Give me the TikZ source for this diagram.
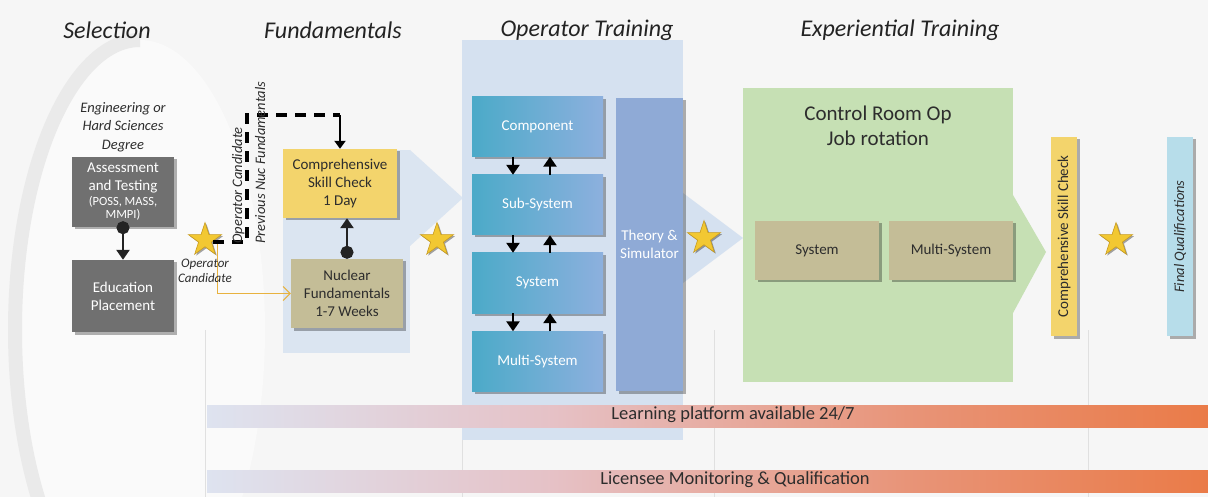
\documentclass[tikz,border=0pt]{standalone}
\usepackage{fontspec}
\setmainfont{Carlito}
\usetikzlibrary{shapes.geometric, arrows.meta, shadows}

\definecolor{bgcol}{RGB}{246,246,246}
\definecolor{conecol}{RGB}{250,250,250}
\definecolor{ringcol}{RGB}{234,234,234}
\definecolor{sepcol}{RGB}{224,224,224}
\definecolor{fundpanel}{RGB}{219,229,241}
\definecolor{oppanel}{RGB}{213,225,240}
\definecolor{greenpanel}{RGB}{198,224,180}
\definecolor{selgrey}{RGB}{112,112,112}
\definecolor{skillyellow}{RGB}{243,212,108}
\definecolor{tanfill}{RGB}{196,189,151}
\definecolor{tealblue}{RGB}{75,170,200}
\definecolor{softblue}{RGB}{141,176,222}
\definecolor{theoryblue}{RGB}{143,170,214}
\definecolor{finalblue}{RGB}{183,221,234}
\definecolor{starGold}{RGB}{242,200,50}
\definecolor{starEdge}{RGB}{200,155,30}
\definecolor{candyellow}{RGB}{232,178,62}
\definecolor{darktext}{RGB}{45,45,45}
\definecolor{headtext}{RGB}{35,35,35}
\definecolor{arrowdark}{RGB}{35,35,35}

% horizontal fade used by the two bottom bars
\pgfdeclarehorizontalshading{platbar}{100bp}{%
  rgb(0bp)=(0.87,0.90,0.95);
  rgb(25bp)=(0.87,0.89,0.94);
  rgb(42bp)=(0.90,0.76,0.78);
  rgb(60bp)=(0.91,0.58,0.47);
  rgb(80bp)=(0.92,0.45,0.22);
  rgb(100bp)=(0.92,0.40,0.15)}

\begin{document}
\begin{tikzpicture}[x=1pt, y=-1pt,
  box/.style={rectangle, inner sep=0pt, align=center,
    font=\fontsize{15}{18}\selectfont,
    drop shadow={shadow xshift=2.5pt, shadow yshift=-2.5pt, opacity=0.3, fill=black}},
  greybox/.style={box, fill=selgrey, text=white, minimum width=102pt},
  yellowbox/.style={box, fill=skillyellow, text=darktext},
  tanbox/.style={box, fill=tanfill, text=darktext},
  bluebox/.style={box, left color=tealblue, right color=softblue, text=white,
    minimum width=131pt, minimum height=60pt},
  vbar/.style={box, minimum width=26pt, minimum height=199pt},
  goldstar/.style={star, star points=5, star point ratio=2.6, minimum size=35pt,
    inner sep=0pt, fill=starGold, draw=starEdge, line width=0.6pt,
    drop shadow={shadow xshift=1.5pt, shadow yshift=-1.5pt, opacity=0.35, fill=black}},
  heading/.style={font=\fontsize{24}{28}\selectfont\itshape, text=headtext},
  updown/.style={line width=2.5pt, draw=black, -{Triangle[width=13pt,length=10pt]}},
  dotarrow/.style={line width=2.5pt, draw=arrowdark,
    {Circle[length=13pt]}-{Triangle[width=13pt,length=10pt]}},
  dashroute/.style={line width=3.5pt, draw=black, dash pattern=on 11pt off 8pt},
  candline/.style={draw=candyellow, line width=1pt, -{Straight Barb[length=7pt,width=14pt]}},
  barlabel/.style={font=\fontsize{18.5}{20}\selectfont, text=darktext},
  sideline/.style={font=\fontsize{14.5}{17}\selectfont\itshape, text=darktext},
  sepline/.style={draw=sepcol, line width=0.8pt}]

\useasboundingbox (0,0) rectangle (1208,497);
\fill[bgcol] (0,0) rectangle (1208,497);

% selection cone: pale interior and grey rim
\begin{scope}
  \clip (0,0) rectangle (1208,497);
  \fill[conecol] (140,330) ellipse [x radius=125, y radius=290];
  \fill[conecol] (140,40) -- (207,110) -- (207,497) -- (140,497) -- cycle;
  \draw[ringcol, line width=14pt] (140,40) arc[start angle=270, end angle=90, x radius=125, y radius=290];
\end{scope}

% faint column separators
\draw[sepline] (205,330) -- (205,497);
\draw[sepline] (462,440) -- (462,497);
\draw[sepline] (714,330) -- (714,497);
\draw[sepline] (1088,330) -- (1088,497);

% phase panels with their chevrons
\fill[fundpanel] (283,150) rectangle (410,353);
\fill[fundpanel] (410,150) -- (463,198) -- (410,246) -- cycle;
\fill[oppanel] (462,40) rectangle (683,440);
\fill[oppanel] (683,193) -- (743,238) -- (683,283) -- cycle;
\fill[greenpanel] (743,88) rectangle (1013,382);
\fill[greenpanel] (1013,195) -- (1046,252) -- (1013,313) -- cycle;

% bottom bars
\shade[shading=platbar] (207,405) rectangle (1208,427);
\shade[shading=platbar] (207,470) rectangle (1208,492);
\node[barlabel] (platform) at (733,415) {Learning platform available 24/7};
\node[barlabel] (licensee) at (735,480) {Licensee Monitoring \& Qualification};

% headings
\node[heading] (hsel) at (107,30) {Selection};
\node[heading] (hfund) at (333,30) {Fundamentals};
\node[heading] (hop) at (587,30) {Operator Training};
\node[heading] (hexp) at (900,30) {Experiential Training};

% selection
\node[font=\fontsize{14.5}{18.5}\selectfont\itshape, text=darktext, align=center] (degree) at (123,127)
  {Engineering or\\Hard Sciences\\Degree};
\node[greybox, minimum height=70pt] (assess) at (123,192)
  {Assessment\\and Testing\\[-3pt]{\fontsize{12.5}{12}\selectfont (POSS, MASS,}\\[-5pt]{\fontsize{12.5}{12}\selectfont MMPI)}};
\node[greybox, minimum height=72pt] (edu) at (123,296) {Education\\Placement};
\draw[dotarrow] ([yshift=6pt]assess.south) -- (edu.north);

% fundamentals
\node[yellowbox, minimum width=114pt, minimum height=69pt] (csc) at (340,183.5)
  {Comprehensive\\Skill Check\\1 Day};
\node[tanbox, minimum width=112pt, minimum height=69pt] (nf) at (347,293.5)
  {Nuclear\\Fundamentals\\1-7 Weeks};
\draw[dotarrow] (nf.north) -- (nf.north |- csc.south);

% operator training
\node[bluebox] (comp) at (537.5,126.5) {Component};
\node[bluebox] (sub) at (537.5,205) {Sub-System};
\node[bluebox] (sys) at (537.5,283) {System};
\node[bluebox] (multi) at (537.5,361.5) {Multi-System};
\node[box, fill=theoryblue, text=white, minimum width=67pt, minimum height=293pt] (theory) at (649.5,244.5)
  {Theory \&\\Simulator};
\foreach \a/\b in {comp/sub, sub/sys, sys/multi} {
  \draw[updown] ([xshift=-24.5pt]\a.south) -- ([xshift=-24.5pt]\b.north);
  \draw[updown] ([xshift=12.5pt]\b.north) -- ([xshift=12.5pt]\a.south);
}

% experiential training
\node[font=\fontsize{21}{25}\selectfont, text=darktext, align=center] (ctrl) at (878,126)
  {Control Room Op\\Job rotation};
\node[tanbox, minimum width=124pt, minimum height=59pt] (esys) at (817,250.5) {System};
\node[tanbox, minimum width=124pt, minimum height=59pt] (emulti) at (951,250.5) {Multi-System};

% checks and qualifications
\node[vbar, fill=skillyellow] (cscbar) at (1064,236.5) {};
\node[rotate=90, font=\fontsize{15}{18}\selectfont, text=darktext] (csctext) at (cscbar.center) {Comprehensive Skill Check};
\node[vbar, fill=finalblue] (final) at (1180,236.5) {};
\node[rotate=90, font=\fontsize{14.5}{18}\selectfont\itshape, text=darktext] (finaltext) at (final.center) {Final Qualifications};

% milestone stars
\node[goldstar] (star1) at (205,240) {};
\node[goldstar] (star2) at (437,240) {};
\node[goldstar] (star3) at (704,238) {};
\node[goldstar] (star4) at (1116,240) {};

% candidate routes out of selection
\coordinate (dashA) at (247,115);
\draw[candline] ([xshift=12pt]star1.center) |- (nf.west);
\draw[dashroute] ([xshift=8pt,yshift=-2pt]star1.center) -| (dashA) -- (dashA -| csc.north);
\draw[line width=2.5pt, draw=black, -{Triangle[width=11pt,length=8pt]}] (dashA -| csc.north) -- (csc.north);
\node[sideline, rotate=90, anchor=base west, inner sep=0pt] (lblop) at (242,244) {Operator Candidate};
\node[sideline, rotate=90, anchor=base west, inner sep=0pt] (lblprev) at (265,244) {Previous Nuc Fundamentals};
\node[font=\fontsize{13}{15}\selectfont\itshape, text=darktext, align=center] (opcand) at (205,271)
  {Operator\\Candidate};

\end{tikzpicture}
\end{document}
